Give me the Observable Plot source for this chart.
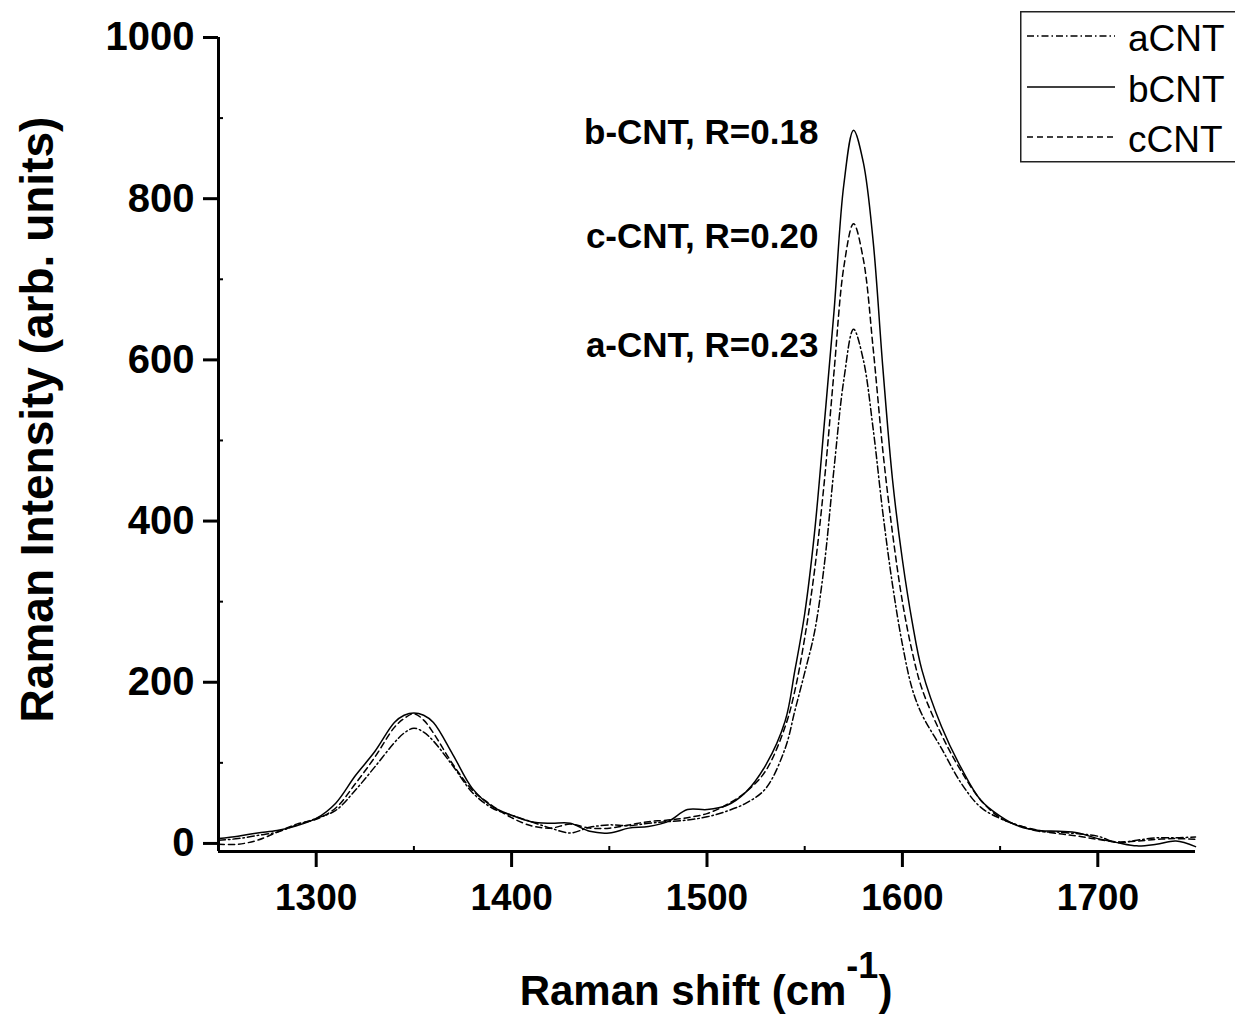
<!DOCTYPE html>
<html><head><meta charset="utf-8">
<script src="https://cdn.jsdelivr.net/npm/d3@7"></script>
<script src="https://cdn.jsdelivr.net/npm/@observablehq/plot@0.6"></script>
<style>
body{margin:0;background:#fff;}
#wrap{position:relative;width:1235px;height:1015px;overflow:hidden;font-family:"Liberation Sans",Arial,sans-serif;}
#legend{position:absolute;left:1020px;top:11px;}
</style>
</head><body><div id="wrap"></div>
<script>
// Raman shift (cm^-1) sample positions
const shift = [1250,1260,1270,1280,1290,1300,1310,1320,1330,1340,1345,1350,1355,1360,1370,1380,1390,1400,1410,1420,1430,1440,1450,1460,1470,1480,1490,1500,1510,1520,1530,1540,1545,1550,1555,1560,1565,1570,1575,1580,1585,1590,1595,1600,1605,1610,1620,1630,1640,1650,1660,1670,1680,1690,1700,1710,1720,1730,1740,1750];
const aCNT = [4,6,10,14,23,31,41,66,95,125,137,143,138,127,96,63,44,35,27,19,13,20,23,22,25,27,29,33,40,50,68,118,165,212,262,345,465,575,638,600,515,410,320,247,192,160,118,75,45,31,22,15,14,12,9,1,4,7,7,8];
const bCNT = [6,9,13,16,22,31,50,84,114,150,159,162,159,150,110,68,46,35,27,25,25,15,13,19,21,27,42,42,47,64,97,152,215,285,385,520,660,817,885,845,748,590,450,352,275,215,145,94,54,34,21,16,15,13,6,1,-3,-1,3,-4];
const cCNT = [-1,-1,4,14,24,30,44,74,107,144,155,161,153,137,98,66,47,32,22,19,24,19,19,23,27,29,32,37,48,64,90,145,190,255,338,448,585,715,769,725,615,487,384,300,238,192,135,90,54,32,22,16,12,9,5,2,3,5,6,5];
const seriesNames = ["aCNT","bCNT","cCNT"];
const xTicks = [1300,1400,1500,1600,1700];
const xMinor = [1350,1450,1550,1650];
const yTicks = [0,200,400,600,800,1000];
const yMinor = [100,300,500,700,900];
const annoLabels = ["b-CNT, R=0.18","c-CNT, R=0.20","a-CNT, R=0.23"];
const annoX = [1557,1557,1557];
const annoY = [882,753,618];
const xTitle = "Raman shift (cm";
const yTitle = "Raman Intensity (arb. units)";

const dashes = {aCNT:"7,3,1.5,3", bCNT:null, cCNT:"6,4"};
const seriesValues = {aCNT, bCNT, cCNT};

const lineMarks = seriesNames.map(name => Plot.line(shift, {
  x: d => d, y: (d,i) => seriesValues[name][i],
  stroke: "black", strokeWidth: 1.5,
  strokeDasharray: dashes[name] || undefined,
  curve: "catmull-rom"
}));

const font = "'Liberation Sans', Arial, sans-serif";
const chart = Plot.plot({
  width: 1235, height: 1015,
  marginTop: 37, marginBottom: 164, marginLeft: 218, marginRight: 40,
  style: {fontFamily: font, background: "white", color: "black"},
  x: {domain: [1250, 1750]},
  y: {domain: [-10, 1000]},
  marks: [
    ...lineMarks,
    Plot.ruleX([1250], {stroke: "black", strokeWidth: 3}),
    Plot.ruleY([-10], {stroke: "black", strokeWidth: 3}),
    Plot.axisY({ticks: yTicks, tickSize: 15, tickPadding: 9, strokeWidth: 3, fontSize: 40, fontWeight: "bold", tickFormat: d => String(d), label: null}),
    Plot.axisY({ticks: yMinor, tickSize: -5, strokeWidth: 2, text: null, label: null}),
    Plot.axisX({ticks: xTicks, tickSize: 16, tickPadding: 16, strokeWidth: 3, fontSize: 37, fontWeight: "bold", tickFormat: d => String(d), label: null}),
    Plot.axisX({ticks: xMinor, tickSize: -5, strokeWidth: 2, text: null, label: null}),
    Plot.text(annoLabels, {x: (d,i) => annoX[i], y: (d,i) => annoY[i], text: d => d, textAnchor: "end", fontSize: 35, fontWeight: "bold", fill: "black"}),
    Plot.text([yTitle], {frameAnchor: "left", textAnchor: "middle", rotate: -90, dx: -180, dy: -25, fontSize: 46, fontWeight: "bold", fill: "black"})
  ]
});
document.getElementById("wrap").appendChild(chart);

// x-axis title with superscript
const svg = d3.select(chart);
const t = svg.append("text")
  .attr("x", 706).attr("y", 1005)
  .attr("text-anchor", "middle")
  .attr("font-family", font).attr("font-weight", "bold").attr("font-size", 42).attr("fill", "black");
t.append("tspan").text(xTitle);
t.append("tspan").attr("font-size", 36).attr("dy", -27).text("-1");
t.append("tspan").attr("dy", 27).text(")");

// legend (inside plot, top-right, clipped at page edge)
const lg = d3.select("#wrap").append("svg").attr("id","legend").attr("width", 216).attr("height", 152);
lg.append("rect").attr("x", 0.75).attr("y", 0.75).attr("width", 260).attr("height", 150)
  .attr("fill", "white").attr("stroke", "#222").attr("stroke-width", 1.5);
const rowY = [25, 76, 126];
seriesNames.forEach((name, i) => {
  lg.append("line").attr("x1", 7).attr("x2", 95).attr("y1", rowY[i]).attr("y2", rowY[i])
    .attr("stroke", "black").attr("stroke-width", 1.3)
    .attr("stroke-dasharray", dashes[name] || null);
  lg.append("text").attr("x", 108).attr("y", rowY[i] + 15)
    .attr("font-family", font).attr("font-size", 37).attr("fill", "black").text(name);
});
</script></body></html>
